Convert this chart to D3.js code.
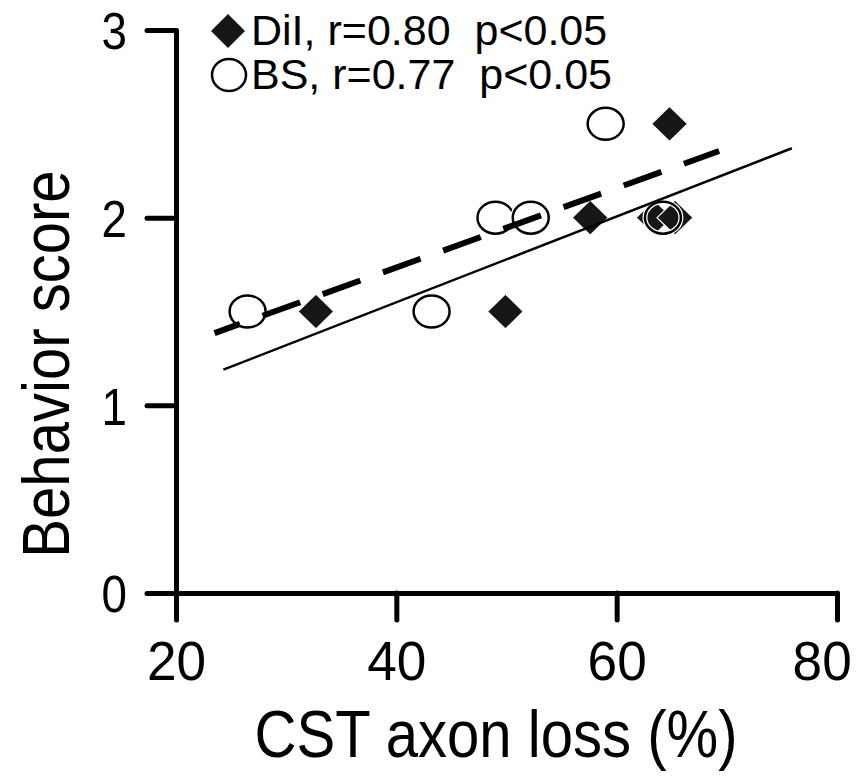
<!DOCTYPE html>
<html>
<head>
<meta charset="utf-8">
<script src="https://cdn.jsdelivr.net/npm/d3@7"></script>
<style>
  body { margin: 0; background: #fff; }
  svg text { font-family: "Liberation Sans", Arial, sans-serif; fill: #000; }
</style>
</head>
<body>
<div id="chart"></div>
<script>
// data
var xTicks = [20, 40, 60, 80];
var yTicks = [0, 1, 2, 3];

var diiX = [32.7, 49.9, 57.6, 63.4, 65.3, 64.8];
var diiY = [1.5, 1.5, 2.0, 2.0, 2.0, 2.5];

var bsX = [26.5, 43.2, 49.0, 52.2, 59.0, 64.2];
var bsY = [1.5, 1.5, 2.0, 2.0, 2.5, 2.0];

// regression lines, end points in data units
var solidLine = [[24.3, 1.19], [75.9, 2.37]];
var dashedLine = [[23.5, 1.385], [69.3, 2.355]];

var legendLabels = ["DiI, r=0.80  p<0.05", "BS, r=0.77  p<0.05"];

var width = 856, height = 779;

var svg = d3.select("#chart").append("svg")
    .attr("width", width)
    .attr("height", height);

var x = d3.scaleLinear().domain([20, 80]).range([176, 837]);
var y = d3.scaleLinear().domain([0, 3]).range([593, 30]);

// axes
var yAxis = d3.axisLeft(y).tickValues(yTicks).tickFormat(d3.format("d"))
    .tickSize(29).tickSizeOuter(0).tickPadding(20);
var xAxis = d3.axisBottom(x).tickValues(xTicks).tickFormat(d3.format("d"))
    .tickSize(27).tickSizeOuter(0).tickPadding(20);

var gy = svg.append("g").attr("transform", "translate(176,0)").call(yAxis);
var gx = svg.append("g").attr("transform", "translate(0,593)").call(xAxis);

[gy, gx].forEach(function(g) {
    g.select(".domain").attr("stroke", "#000").attr("stroke-width", 5).attr("stroke-linecap", "round");
    g.selectAll(".tick line").attr("stroke", "#000").attr("stroke-width", 5).attr("stroke-linecap", "round");
    g.selectAll(".tick text")
        .attr("font-family", null)
        .attr("fill", "#000");
});

// narrow digits: squeeze horizontally around the anchor
gy.selectAll(".tick text")
    .style("font-size", "52px")
    .attr("dy", "0.36em")
    .attr("transform", "translate(-49,0) scale(0.88,1) translate(49,0)");
gx.selectAll(".tick text")
    .style("font-size", "56px")
    .attr("dy", "0.71em")
    .attr("transform", "scale(0.95,1)");
// last label sits against the right edge
gx.selectAll(".tick text")
    .filter(function(d) { return d === 80; })
    .attr("text-anchor", "end")
    .attr("x", 15);

// BS circles, white fill
var circles = svg.append("g");
bsX.forEach(function(v, i) {
    circles.append("ellipse")
        .attr("cx", x(v))
        .attr("cy", y(bsY[i]))
        .attr("rx", 18)
        .attr("ry", 16)
        .attr("fill", "#fff")
        .attr("stroke", "#000")
        .attr("stroke-width", 2.5);
});

// DiI diamonds
var diamond = "M0,-17.5L18,0L0,17.5L-18,0Z";
var diamonds = svg.append("g");
diiX.forEach(function(v, i) {
    diamonds.append("path")
        .attr("d", diamond)
        .attr("transform", "translate(" + x(v) + "," + y(diiY[i]) + ")")
        .attr("fill", "#161616")
        .attr("stroke", "#fff")
        .attr("stroke-width", 1.2);
});

// circle outlines again on top so overlapped ones stay visible
var rings = svg.append("g");
bsX.forEach(function(v, i) {
    rings.append("ellipse")
        .attr("cx", x(v)).attr("cy", y(bsY[i]))
        .attr("rx", 18).attr("ry", 16)
        .attr("fill", "none")
        .attr("stroke", "#fff")
        .attr("stroke-width", 5);
    rings.append("ellipse")
        .attr("cx", x(v)).attr("cy", y(bsY[i]))
        .attr("rx", 18).attr("ry", 16)
        .attr("fill", "none")
        .attr("stroke", "#000")
        .attr("stroke-width", 2.5);
});

// fit lines
var line = d3.line().x(function(d) { return x(d[0]); }).y(function(d) { return y(d[1]); });

svg.append("path")
    .attr("d", line(solidLine))
    .attr("fill", "none")
    .attr("stroke", "#000")
    .attr("stroke-width", 2.5);

svg.append("path")
    .attr("d", line(dashedLine))
    .attr("fill", "none")
    .attr("stroke", "#000")
    .attr("stroke-width", 6)
    .attr("stroke-dasharray", "40,24")
    .attr("stroke-dashoffset", 13);

// legend
var legend = svg.append("g");
legend.append("path")
    .attr("d", "M0,-17L17,0L0,17L-17,0Z")
    .attr("transform", "translate(228,31)")
    .attr("fill", "#161616");
legend.append("ellipse")
    .attr("cx", 229).attr("cy", 75)
    .attr("rx", 17).attr("ry", 16)
    .attr("fill", "#fff")
    .attr("stroke", "#000")
    .attr("stroke-width", 2.5);
legendLabels.forEach(function(t, i) {
    legend.append("text")
        .attr("x", 251)
        .attr("y", 45 + i * 44)
        .style("font-size", "43px")
        .style("white-space", "pre")
        .text(t);
});

// axis titles
svg.append("text")
    .attr("transform", "translate(496,757) scale(0.88,1)")
    .attr("text-anchor", "middle")
    .style("font-size", "66px")
    .text("CST axon loss (%)");

svg.append("text")
    .attr("transform", "translate(69,364) rotate(-90) scale(0.88,1)")
    .attr("text-anchor", "middle")
    .style("font-size", "66px")
    .text("Behavior score");
</script>
</body>
</html>
